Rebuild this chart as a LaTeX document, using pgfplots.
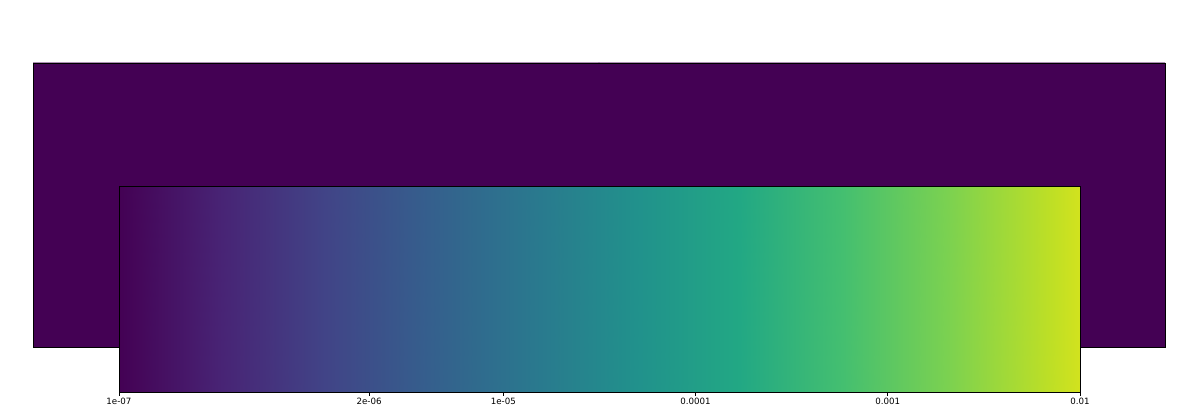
\documentclass[border=0pt]{standalone}
\usepackage{pgfplots}
\pgfplotsset{compat=1.18}
\usepackage{fontspec}
\setmainfont{DejaVu Sans}
\pgfplotsset{colormap={vir}{
  rgb255(0)=(68,1,84)
  rgb255(10.75)=(72,36,117)
  rgb255(21.5)=(65,68,135)
  rgb255(32.26)=(53,95,141)
  rgb255(43.01)=(42,120,142)
  rgb255(53.76)=(33,145,140)
  rgb255(64.52)=(34,168,132)
  rgb255(75.27)=(68,191,112)
  rgb255(86.02)=(122,209,81)
  rgb255(96.77)=(189,223,38)
  rgb255(100)=(210,226,30)
}}
\begin{document}
\begin{tikzpicture}
\path[use as bounding box] (0pt,0pt) rectangle (900pt,307.5pt);
% main image (all values at the minimum of the colour scale)
\begin{axis}[
  at={(24.75pt,47.25pt)}, anchor=south west,
  scale only axis, width=849pt, height=213pt,
  xmin=0, xmax=1, ymin=0, ymax=1,
  xtick=\empty, ytick=\empty,
  axis line style={black, line width=0.7pt},
  colormap name=vir, point meta min=-7, point meta max=-2,
  axis on top,
]
\addplot[matrix plot*, point meta=explicit, mesh/cols=2, mesh/rows=2]
  coordinates {(0.25,0.25) [-7] (0.75,0.25) [-7] (0.25,0.75) [-7] (0.75,0.75) [-7]};
\end{axis}
% colorbar
\begin{axis}[
  at={(89.25pt,13.5pt)}, anchor=south west,
  scale only axis, width=720.75pt, height=154.5pt,
  xmode=log, xmin=1e-7, xmax=1e-2, ymin=0, ymax=1,
  ytick=\empty,
  xtick={1e-7,2e-6,1e-5,1e-4,1e-3,1e-2},
  xticklabels={1e-07,2e-06,1e-05,0.0001,0.001,0.01},
  minor xtick={}, minor tick num=0,
  xtick pos=bottom, tick align=outside,
  major tick length=3pt,
  tick style={black, line width=0.7pt},
  axis line style={black, line width=0.7pt},
  ticklabel style={font=\fontsize{6.5}{7}\selectfont, inner sep=1.5pt},
  /pgf/number format/assume math mode=true,
  colormap name=vir, point meta min=-7, point meta max=-2,
  axis on top,
]
\addplot[surf, shader=interp, point meta=\thisrow{c}] table {
x y c
1e-7 0 -7
1e-6 0 -6
1e-5 0 -5
1e-4 0 -4
1e-3 0 -3
1e-2 0 -2

1e-7 1 -7
1e-6 1 -6
1e-5 1 -5
1e-4 1 -4
1e-3 1 -3
1e-2 1 -2
};
\end{axis}
\end{tikzpicture}
\end{document}
